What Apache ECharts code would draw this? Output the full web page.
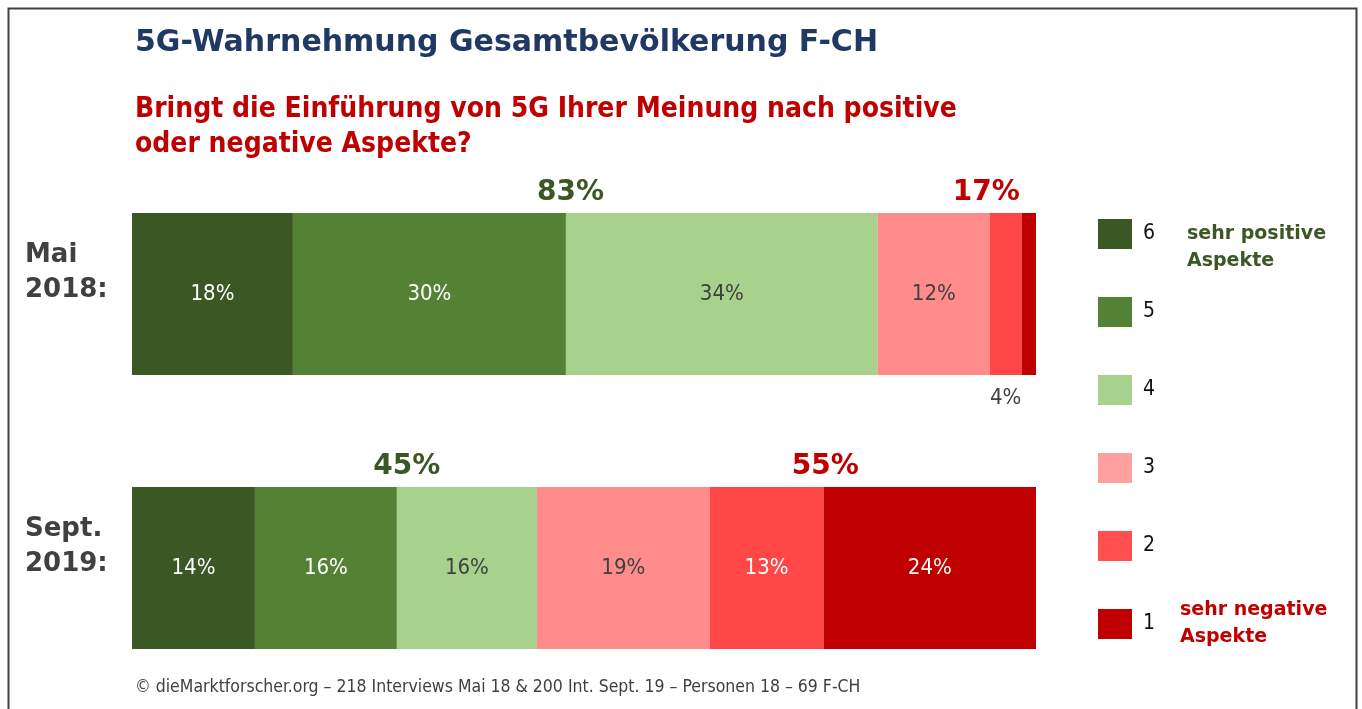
<!DOCTYPE html>
<html><head><meta charset="utf-8">
<script src="https://cdn.jsdelivr.net/npm/echarts@6/dist/echarts.min.js"></script>
<style>html,body{margin:0;padding:0;background:#fff;}#c{width:1362px;height:709px;}</style>
</head><body><div id="c"></div>
<script>
const categories = ["Mai\n2018:", "Sept.\n2019:"];
const seriesNames = ["6", "5", "4", "3", "2", "1"];
const colors = ["#3A5724", "#548235", "#A9D18E", "#FF8B8B", "#FF4747", "#C00000"];
const legendColors = ["#3A5724", "#548235", "#A9D18E", "#FF9F9F", "#FF4F4F", "#C00000"];
// values per series: [Mai 2018, Sept. 2019]
const v6 = [17.8, 13.6];
const v5 = [30.2, 15.7];
const v4 = [34.5, 15.5];
const v3 = [12.4, 19.1];
const v2 = [3.5, 12.6];
const v1 = [1.6, 23.5];
const labels6 = ["18%", "14%"];
const labels5 = ["30%", "16%"];
const labels4 = ["34%", "16%"];
const labels3 = ["12%", "19%"];
const labels2 = ["4%", "13%"];
const labels1 = ["", "24%"];
const labelColors = ["#fff", "#fff", "#404040", "#404040", "#fff", "#fff"];
// totals: [text, x position (axis value), category index, color]
const totals = [
  ["83%", 48.5, 0, "#3A5724"],
  ["17%", 94.5, 0, "#C00000"],
  ["45%", 30.4, 1, "#3A5724"],
  ["55%", 76.7, 1, "#C00000"]
];

const values = [v6, v5, v4, v3, v2, v1];
const labelSets = [labels6, labels5, labels4, labels3, labels2, labels1];

const chart = echarts.init(document.getElementById('c'));
const series = seriesNames.map((n, i) => ({
  name: n,
  type: 'bar',
  stack: 'total',
  barWidth: 162,
  itemStyle: { color: colors[i] },
  emphasis: { disabled: true },
  data: values[i].map((v, j) => {
    const d = { value: v };
    if (i === 4 && j === 0) {
      d.label = { show: true, position: 'bottom', distance: 12, color: '#404040' };
    }
    return d;
  }),
  label: {
    show: true,
    position: 'inside',
    fontFamily: 'DejaVu Sans Condensed',
    fontSize: 22,
    color: labelColors[i],
    formatter: p => labelSets[i][p.dataIndex]
  }
}));

const option = {
  animation: false,
  backgroundColor: '#fff',
  grid: { left: 132, right: 326, top: 157, bottom: 4 },
  xAxis: { type: 'value', min: 0, max: 100, show: false },
  yAxis: {
    type: 'category', data: categories, inverse: true,
    axisLine: { show: false }, axisTick: { show: false },
    axisLabel: {
      align: 'left', margin: 107, fontFamily: 'DejaVu Sans', fontWeight: 'bold',
      fontSize: 26, lineHeight: 35, color: '#404040',
      formatter: v => v + '\n{g| }',
      rich: { g: { lineHeight: 42, fontSize: 10 } }
    }
  },
  legend: {
    orient: 'vertical', left: 1093, top: 214,
    itemWidth: 34, itemHeight: 30, itemGap: 48,
    icon: 'rect',
    data: seriesNames.map((n, i) => ({ name: n, itemStyle: { color: legendColors[i] } })),
    textStyle: { fontFamily: 'DejaVu Sans Condensed', fontSize: 21, color: '#111', padding: [0, 0, 0, 6] },
    selectedMode: false
  },
  series: series,
  graphic: [
    { type: 'rect', left: 6, top: 6, shape: { width: 1348, height: 720 }, style: { fill: null, stroke: '#404040', lineWidth: 2 }, silent: true, z: 100 },
    { type: 'text', left: 135, top: 28, style: { text: '5G-Wahrnehmung Gesamtbevölkerung F-CH', fontFamily: 'DejaVu Sans', fontWeight: 'bold', fontSize: 30, fill: '#1F3864' } },
    { type: 'text', left: 135, top: 92, style: { text: 'Bringt die Einführung von 5G Ihrer Meinung nach positive\noder negative Aspekte?', fontFamily: 'DejaVu Sans Condensed', fontWeight: 'bold', fontSize: 28, lineHeight: 35, fill: '#C00000' } },
    { type: 'text', left: 1187, top: 221, style: { text: 'sehr positive\nAspekte', fontFamily: 'DejaVu Sans', fontWeight: 'bold', fontSize: 19, lineHeight: 27, fill: '#3A5724' } },
    { type: 'text', left: 1180, top: 597, style: { text: 'sehr negative\nAspekte', fontFamily: 'DejaVu Sans', fontWeight: 'bold', fontSize: 19, lineHeight: 27, fill: '#C00000' } },
    { type: 'text', left: 135, top: 678, style: { text: '© dieMarktforscher.org – 218 Interviews Mai 18 & 200 Int. Sept. 19 – Personen 18 – 69 F-CH', fontFamily: 'DejaVu Sans Condensed', fontSize: 17.5, fill: '#404040' } }
  ]
};
chart.setOption(option);

const extra = totals.map(t => {
  const p = chart.convertToPixel({ gridIndex: 0 }, [t[1], t[2]]);
  return {
    type: 'text', x: p[0], y: p[1] - 81 - 6,
    style: { text: t[0], fontFamily: 'DejaVu Sans', fontWeight: 'bold', fontSize: 28, fill: t[3], align: 'center', verticalAlign: 'bottom' }
  };
});
chart.setOption({ graphic: option.graphic.concat(extra) });
</script></body></html>
